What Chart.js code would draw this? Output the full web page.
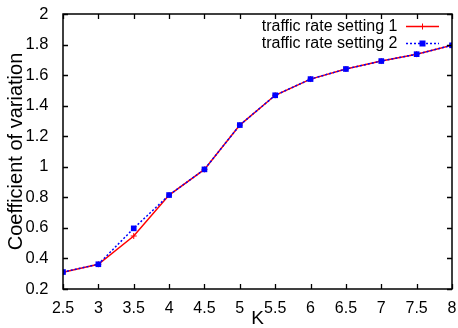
<!DOCTYPE html>
<html>
<head>
<meta charset="utf-8">
<script src="https://cdn.jsdelivr.net/npm/chart.js@4"></script>
<style>
  html, body { margin: 0; padding: 0; background: #fff; }
  #wrap { width: 458px; height: 328px; }
</style>
</head>
<body>
<div id="wrap"><canvas id="cv"></canvas></div>
<script>
// data
const kValues = [2.5, 3, 3.5, 4, 4.5, 5, 5.5, 6, 6.5, 7, 7.5, 8];
const setting1 = [0.31, 0.362, 0.547, 0.815, 0.983, 1.273, 1.468, 1.574, 1.64, 1.692, 1.737, 1.795];
const setting2 = [0.311, 0.362, 0.597, 0.815, 0.983, 1.273, 1.468, 1.574, 1.64, 1.692, 1.737, 1.795];
const seriesNames = ["traffic rate setting 1", "traffic rate setting 2"];
const xTicks = [2.5, 3, 3.5, 4, 4.5, 5, 5.5, 6, 6.5, 7, 7.5, 8];
const xTickLabels = ["2.5", "3", "3.5", "4", "4.5", "5", "5.5", "6", "6.5", "7", "7.5", "8"];
const yTicks = [0.2, 0.4, 0.6, 0.8, 1, 1.2, 1.4, 1.6, 1.8, 2];
const yTickLabels = ["0.2", "0.4", "0.6", "0.8", "1", "1.2", "1.4", "1.6", "1.8", "2"];

const FONT = "'Liberation Sans', Arial, sans-serif";

// gnuplot-like frame with inward ticks on all four sides
const framePlugin = {
  id: "frame",
  afterDatasetsDraw(chart) {
    const { ctx, chartArea: a, scales } = chart;
    ctx.save();
    ctx.strokeStyle = "#000";
    ctx.lineWidth = 1.3;
    ctx.beginPath();
    xTicks.forEach(v => {
      const px = Math.round(scales.x.getPixelForValue(v)) + 0.5;
      ctx.moveTo(px, a.bottom); ctx.lineTo(px, a.bottom - 5);
      ctx.moveTo(px, a.top); ctx.lineTo(px, a.top + 5);
    });
    yTicks.forEach(v => {
      const py = Math.round(scales.y.getPixelForValue(v)) + 0.5;
      ctx.moveTo(a.left, py); ctx.lineTo(a.left + 5, py);
      ctx.moveTo(a.right, py); ctx.lineTo(a.right - 5, py);
    });
    ctx.stroke();
    ctx.lineWidth = 1.5;
    ctx.strokeRect(a.left, a.top, a.right - a.left, a.bottom - a.top);
    ctx.restore();
  }
};

// legend in the top right corner, text right-aligned with a sample line
const legendPlugin = {
  id: "keybox",
  afterDatasetsDraw(chart) {
    const { ctx } = chart;
    ctx.save();
    ctx.font = "16px " + FONT;
    ctx.fillStyle = "#000";
    ctx.textAlign = "right";
    ctx.textBaseline = "middle";
    const rows = [26.5, 43.5];
    chart.data.datasets.forEach((ds, i) => {
      const y = rows[i];
      ctx.fillText(seriesNames[i], 397.5, y);
      ctx.strokeStyle = ds.borderColor;
      ctx.lineWidth = 1.5;
      ctx.setLineDash(ds.borderDash || []);
      ctx.beginPath();
      ctx.moveTo(406, y); ctx.lineTo(439, y);
      ctx.stroke();
      ctx.setLineDash([]);
      if (ds.pointStyle === "rect") {
        ctx.fillStyle = ds.pointBackgroundColor;
        ctx.fillRect(419.5, y - 3, 6, 6);
        ctx.fillStyle = "#000";
      } else {
        ctx.lineWidth = 1;
        ctx.beginPath();
        ctx.moveTo(419.5, y); ctx.lineTo(425.5, y);
        ctx.moveTo(422.5, y - 3); ctx.lineTo(422.5, y + 3);
        ctx.stroke();
      }
    });
    ctx.restore();
  }
};

new Chart(document.getElementById("cv"), {
  type: "line",
  data: {
    datasets: [
      {
        label: seriesNames[0],
        data: kValues.map((k, i) => ({ x: k, y: setting1[i] })),
        borderColor: "#ff0000",
        backgroundColor: "#ff0000",
        borderWidth: 1.5,
        pointStyle: "cross",
        pointRadius: 3,
        pointBorderWidth: 1,
        pointBorderColor: "#ff0000",
        pointBackgroundColor: "#ff0000",
        tension: 0,
        order: 1
      },
      {
        label: seriesNames[1],
        data: kValues.map((k, i) => ({ x: k, y: setting2[i] })),
        borderColor: "#0000ff",
        backgroundColor: "#0000ff",
        borderWidth: 1.5,
        borderDash: [2, 2],
        pointStyle: "rect",
        pointRadius: 4,
        pointBorderWidth: 0,
        pointBackgroundColor: "#0000ff",
        tension: 0,
        order: 0
      }
    ]
  },
  options: {
    responsive: true,
    maintainAspectRatio: false,
    animation: false,
    layout: { padding: { top: 14, right: 6, left: 0, bottom: 0 } },
    plugins: {
      legend: { display: false },
      tooltip: { enabled: false }
    },
    scales: {
      x: {
        type: "linear",
        min: 2.5,
        max: 8,
        afterBuildTicks: s => { s.ticks = xTicks.map(v => ({ value: v })); },
        ticks: {
          callback: (v, i) => xTickLabels[i],
          font: { family: FONT, size: 16 },
          color: "#000",
          padding: 2,
          maxRotation: 0,
          autoSkip: false
        },
        grid: { display: false },
        border: { display: false },
        title: {
          display: true,
          text: "K",
          font: { family: FONT, size: 19 },
          color: "#000",
          padding: { top: 0, bottom: -2.5 }
        },
        afterFit: s => {
          s.height = 39;
          s.paddingLeft = 0; s.paddingRight = 0;
        }
      },
      y: {
        min: 0.2,
        max: 2,
        afterBuildTicks: s => { s.ticks = yTicks.map(v => ({ value: v })); },
        ticks: {
          callback: (v, i) => yTickLabels[i],
          font: { family: FONT, size: 16.5 },
          color: "#000",
          padding: 6.5,
          autoSkip: false
        },
        grid: { display: false },
        border: { display: false },
        title: {
          display: true,
          text: "Coefficient of variation",
          font: { family: FONT, size: 20 },
          color: "#000",
          padding: { top: 4, bottom: 0 }
        },
        afterFit: s => {
          s.width = 63;
          s.paddingTop = 0; s.paddingBottom = 0;
        }
      }
    }
  },
  plugins: [framePlugin, legendPlugin]
});
</script>
</body>
</html>
